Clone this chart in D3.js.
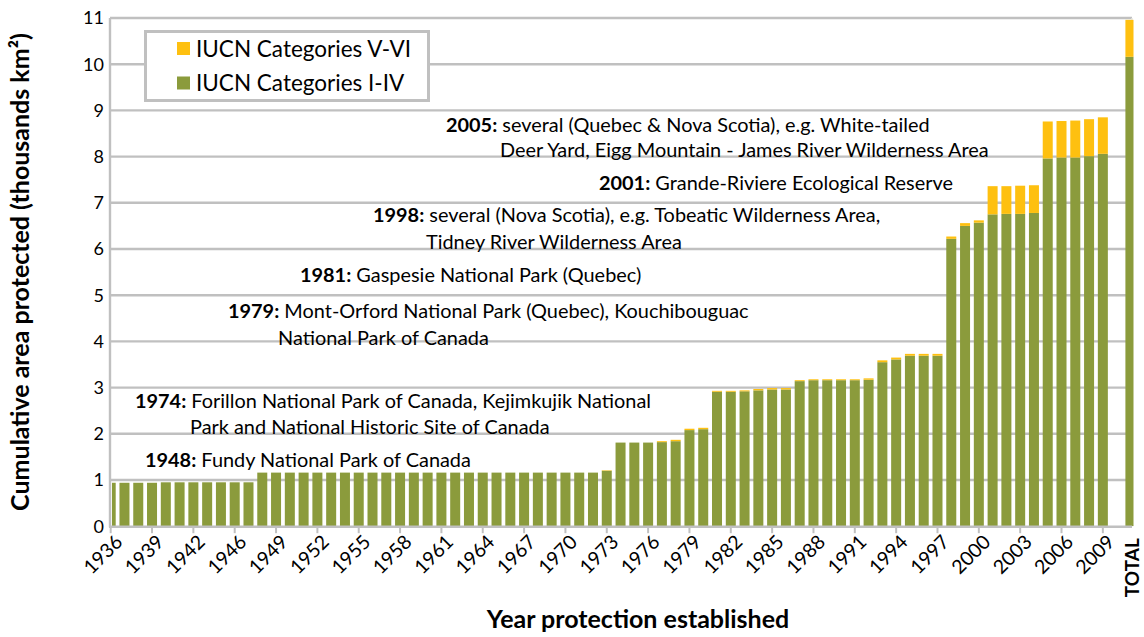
<!DOCTYPE html>
<html><head><meta charset="utf-8">
<script src="https://cdn.jsdelivr.net/npm/d3@7"></script>
<style>body{margin:0;background:#fff}svg{display:block}text{font-family:Lato,"Open Sans",sans-serif}</style>
</head><body><svg id="c" width="1144" height="637"></svg>
<script>
const categories = ["1936","1937","1938","1939","1940","1941","1942","1943","1945","1946","1947","1948","1949","1950","1951","1952","1953","1954","1955","1956","1957","1958","1959","1960","1961","1962","1963","1964","1965","1966","1967","1968","1969","1970","1971","1972","1973","1974","1975","1976","1977","1978","1979","1980","1981","1982","1983","1984","1985","1986","1987","1988","1989","1990","1991","1992","1993","1994","1995","1996","1997","1998","1999","2000","2001","2002","2003","2004","2005","2006","2007","2008","2009","2010","TOTAL"];
const catI_IV = [0.94,0.94,0.94,0.94,0.95,0.95,0.95,0.95,0.95,0.95,0.95,1.16,1.16,1.16,1.16,1.16,1.16,1.16,1.16,1.16,1.16,1.16,1.16,1.16,1.16,1.16,1.16,1.16,1.16,1.16,1.16,1.16,1.16,1.16,1.16,1.16,1.2,1.81,1.81,1.81,1.82,1.84,2.08,2.1,2.91,2.91,2.92,2.94,2.96,2.96,3.14,3.16,3.16,3.16,3.16,3.17,3.55,3.61,3.69,3.69,3.69,6.22,6.5,6.57,6.75,6.76,6.76,6.78,7.96,7.98,7.98,8.01,8.06,null,10.16];
const catV_VI = [0,0,0,0,0,0,0,0,0,0,0,0,0,0,0,0,0,0,0,0,0,0,0,0,0,0,0,0,0,0,0,0,0,0,0,0,0.01,0,0,0,0.02,0.03,0.03,0.03,0.02,0.02,0.02,0.03,0.03,0.03,0.02,0.02,0.02,0.02,0.02,0.03,0.04,0.04,0.04,0.04,0.04,0.05,0.06,0.05,0.61,0.6,0.61,0.6,0.8,0.79,0.8,0.8,0.79,null,0.8];
const yTicks = [0,1,2,3,4,5,6,7,8,9,10,11];
const seriesNames = ["IUCN Categories V-VI","IUCN Categories I-IV"];
const colors = {green:"#8b9b3c", yellow:"#fec010", grid:"#c0c0c0"};
const notes = [
  {lines:[["1948:"," Fundy National Park of Canada"]], x:[145], y:[460]},
  {lines:[["1974:"," Forillon National Park of Canada, Kejimkujik National"],["","Park and National Historic Site of Canada"]], x:[135,190], y:[401,427]},
  {lines:[["1979:"," Mont-Orford National Park (Quebec), Kouchibouguac"],["","National Park of Canada"]], x:[228,278], y:[311,338]},
  {lines:[["1981:"," Gaspesie National Park (Quebec)"]], x:[300], y:[275]},
  {lines:[["1998:"," several (Nova Scotia), e.g. Tobeatic Wilderness Area,"],["","Tidney River Wilderness Area"]], x:[373,426], y:[215,242]},
  {lines:[["2001:"," Grande-Riviere Ecological Reserve"]], x:[599], y:[183]},
  {lines:[["2005:"," several (Quebec & Nova Scotia), e.g. White-tailed"],["","Deer Yard, Eigg Mountain - James River Wilderness Area"]], x:[446,500], y:[125,150]}
];
(function(){
const svg = d3.select("#c");
const pL=110, pR=1132, pT=18, pB=526.2;
const y = d3.scaleLinear().domain([0,11]).range([pB, pT]);
const x = d3.scaleBand().domain(categories).range([103.8,1137.3]).paddingInner(0.274).paddingOuter(0.137);

svg.append("g").selectAll("line").data(yTicks.filter(d=>d>0)).join("line")
  .attr("x1",pL).attr("x2",pR).attr("y1",d=>y(d)).attr("y2",d=>y(d))
  .attr("stroke",colors.grid).attr("stroke-width",2.4);
svg.append("line").attr("x1",pR).attr("x2",pR).attr("y1",pT).attr("y2",pB).attr("stroke","#e6e6e6").attr("stroke-width",1.5);

svg.append("clipPath").attr("id","clip").append("rect").attr("x",112).attr("y",0).attr("width",1133.5-112).attr("height",pB);
const bars = svg.append("g").attr("clip-path","url(#clip)");
const data = categories.map((c,i)=>({c, a:catI_IV[i], b:catV_VI[i]})).filter(d=>d.a!=null);
bars.selectAll("rect.g").data(data).join("rect").attr("class","g")
  .attr("x",d=>x(d.c)).attr("width",x.bandwidth())
  .attr("y",d=>y(d.a)).attr("height",d=>y(0)-y(d.a)).attr("fill",colors.green);
bars.selectAll("rect.yy").data(data.filter(d=>d.b>0)).join("rect").attr("class","yy")
  .attr("x",d=>x(d.c)).attr("width",x.bandwidth())
  .attr("y",d=>y(d.a+d.b)).attr("height",d=>y(d.a)-y(d.a+d.b)).attr("fill",colors.yellow);

svg.append("line").attr("x1",pL).attr("x2",pL).attr("y1",pT).attr("y2",pB+1).attr("stroke",colors.grid).attr("stroke-width",2.4);
svg.append("line").attr("x1",pL-1).attr("x2",pR).attr("y1",pB+0.5).attr("y2",pB+0.5).attr("stroke",colors.grid).attr("stroke-width",2.4);

svg.append("g").selectAll("text").data(yTicks).join("text")
  .attr("x",104).attr("y",d=>y(d)).attr("dy","0.36em").attr("text-anchor","end")
  .attr("font-size",18).attr("fill","#000").text(d=>d);

const shown = categories.filter((c,i)=>i%3===0 && c!=="TOTAL");
const cx = c=>x(c)+x.bandwidth()/2;
svg.append("g").selectAll("line").data(shown).join("line")
  .attr("x1",d=>cx(d)).attr("x2",d=>cx(d)).attr("y1",pB).attr("y2",pB+7)
  .attr("stroke",colors.grid).attr("stroke-width",2);
svg.append("g").selectAll("text").data(shown).join("text")
  .attr("transform",d=>`translate(${cx(d)+8},${pB+12}) rotate(-45)`)
  .attr("text-anchor","end").attr("dy","0.36em").attr("font-size",19.5).text(d=>d);
svg.append("text").attr("transform",`translate(${cx("TOTAL")+9},${pB+12}) rotate(-90)`)
  .attr("text-anchor","end").attr("font-size",19).attr("font-weight","bold").text("TOTAL");

svg.append("text").attr("transform","translate(29,272) rotate(-90)").attr("text-anchor","middle")
  .attr("font-size",25).attr("font-weight","bold").text("Cumulative area protected (thousands km²)");
svg.append("text").attr("x",638).attr("y",628).attr("text-anchor","middle")
  .attr("font-size",25).attr("font-weight","bold").text("Year protection established");

const lg = svg.append("g");
lg.append("rect").attr("x",145.5).attr("y",31.5).attr("width",283).attr("height",69).attr("fill","#fff").attr("stroke",colors.grid).attr("stroke-width",3);
[colors.yellow, colors.green].forEach((col,i)=>{
  lg.append("rect").attr("x",177).attr("y",42+i*34.5).attr("width",13).attr("height",13).attr("fill",col);
  lg.append("text").attr("x",196).attr("y",48.5+i*34.5).attr("dy","0.36em").attr("font-size",22.5).text(seriesNames[i]);
});

const ag = svg.append("g");
notes.forEach(n=>{
  n.lines.forEach((ln,j)=>{
    const t = ag.append("text").attr("x",n.x[j]).attr("y",n.y[j]).attr("dy","0.36em").attr("font-size",19.9);
    if (ln[0]) t.append("tspan").attr("font-weight","bold").text(ln[0]);
    t.append("tspan").text(ln[1]);
  });
});
})();
</script></body></html>
